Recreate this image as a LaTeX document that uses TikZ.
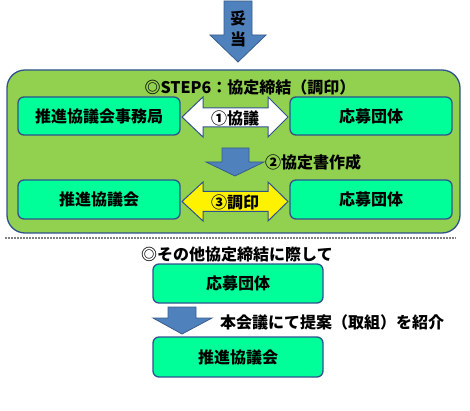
\documentclass[tikz,border=0pt]{standalone}
\usepackage{fontspec}
\setmainfont{Noto Sans CJK JP}
\definecolor{cgreen}{RGB}{146,208,80}
\definecolor{bgreen}{RGB}{0,255,153}
\definecolor{navy}{RGB}{47,82,143}
\definecolor{ablue}{RGB}{79,129,189}
\definecolor{ablueb}{RGB}{56,93,138}
\definecolor{dotgray}{RGB}{128,128,128}
\tikzset{
  txt/.style={font=\fontsize{16pt}{19pt}\selectfont\bfseries, text=black, inner sep=0pt},
  gbox/.style={txt, draw=navy, line width=1.3pt, fill=bgreen, rounded corners=6pt},
  container/.style={draw=navy, line width=1.3pt, fill=cgreen, rounded corners=18pt},
  bluearrow/.style={draw=ablueb, line width=0.8pt, fill=ablue},
  dblarrow/.style={draw=navy, line width=1pt},
}
\begin{document}
\begin{tikzpicture}[x=1pt,y=-1pt]
\useasboundingbox (0,0) rectangle (470,411);
% top arrow
\draw[bluearrow] (224,1) -- (252,1) -- (252,35) -- (266,35) -- (238,62) -- (210,35) -- (224,35) -- cycle;
\node[txt] (t1) at (238,18) {妥};
\node[txt] (t2) at (238,39) {当};
% container
\node[container, minimum width=453pt, minimum height=163pt] (c) at (233.5,151.5) {};
\node[txt] (title) at (250,87) {◎STEP6：協定締結（調印）};
% row 1
\node[gbox, minimum width=162pt, minimum height=38pt] (b1) at (99,116) {推進協議会事務局};
\node[gbox, minimum width=162pt, minimum height=38pt] (b2) at (371,116) {応募団体};
\draw[dblarrow, fill=white] (182,117) -- (203,97) -- (203,108) -- (268,108) -- (268,97) -- (288,117) -- (268,137) -- (268,127) -- (203,127) -- (203,137) -- cycle;
\node[txt] (l1) at (235,118) {①協議};
% down arrow 2
\draw[bluearrow] (222,148) -- (249,148) -- (249,162) -- (264,162) -- (235,176) -- (206,162) -- (222,162) -- cycle;
\node[txt, anchor=west] (l2) at (265,162) {②協定書作成};
% row 2
\node[gbox, minimum width=162pt, minimum height=39pt] (b3) at (99,199.5) {推進協議会};
\node[gbox, minimum width=162pt, minimum height=39pt] (b4) at (371,199.5) {応募団体};
\draw[dblarrow, fill=yellow] (182,201.5) -- (203,182) -- (203,191.5) -- (268,191.5) -- (268,182) -- (288,201.5) -- (268,221) -- (268,211.5) -- (203,211.5) -- (203,221) -- cycle;
\node[txt] (l3) at (235,202) {③調印};
% dotted separator
\coordinate (dl) at (5,238);
\coordinate (dr) at (456,238);
\draw[dotgray, line width=1.5pt, dash pattern=on 1.5pt off 1.5pt] (dl) -- (dr);
% lower section
\node[txt] (sub) at (237,254) {◎その他協定締結に際して};
\node[gbox, minimum width=170pt, minimum height=39pt] (b5) at (238,283.5) {応募団体};
\draw[bluearrow] (168,307) -- (196,307) -- (196,318) -- (212,318) -- (182,334) -- (153,318) -- (168,318) -- cycle;
\node[txt, anchor=west] (l4) at (220,322) {本会議にて提案（取組）を紹介};
\node[gbox, minimum width=170pt, minimum height=40pt] (b6) at (238,357) {推進協議会};
\end{tikzpicture}
\end{document}
